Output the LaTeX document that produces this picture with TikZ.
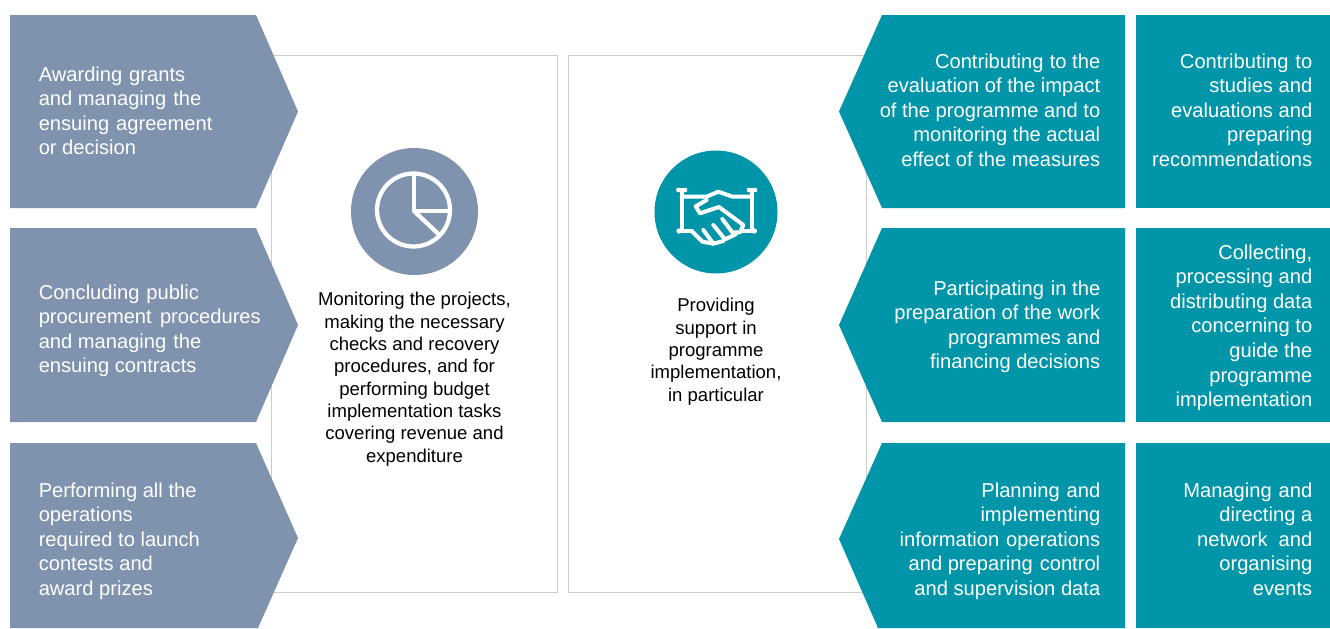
\documentclass[tikz,border=0pt]{standalone}
\usepackage{fontspec}
\setmainfont{Liberation Sans}
\definecolor{slate}{HTML}{7F92AE}
\definecolor{teal2}{HTML}{0095A8}
\definecolor{rule}{HTML}{CCCCCC}
\newcommand{\wsp}[1]{\hspace{#1pt}}
\tikzset{
  x=0.75pt,y=-0.75pt,
  panel/.style={draw=rule,line width=0.75pt,fill=white},
  slatefill/.style={fill=slate},
  tealfill/.style={fill=teal2},
  big/.style={text=white,font=\fontsize{15.1}{18.4}\selectfont,inner sep=0pt},
  bigl/.style={big,align=left,anchor=north west},
  bigr/.style={big,align=right,anchor=north east},
  small/.style={text=black,font=\fontsize{13.9}{16.75}\selectfont,inner sep=0pt,align=center,anchor=north},
  icon/.style={draw=white,line width=3.2pt,line cap=round,line join=round},
  iconh/.style={draw=white,line width=3pt,line cap=round,line join=round},
  dot/.style={fill=white}
}
\begin{document}
\begin{tikzpicture}
\useasboundingbox (0,0) rectangle (1330,628);
\fill[white] (0,0) rectangle (1330,628);
\draw[panel] (271.5,55) rectangle (557,592.5);
\draw[panel] (568.5,55) rectangle (866,592.5);
% left chevrons
\fill[slatefill] (10,15) -- (256,15) -- (298,111.5) -- (256,208) -- (10,208) -- cycle;
\fill[slatefill] (10,228) -- (256,228) -- (298,325) -- (256,422) -- (10,422) -- cycle;
\fill[slatefill] (10,443) -- (256,443) -- (298,538) -- (258,628) -- (10,628) -- cycle;
% right chevrons
\fill[tealfill] (1125,15) -- (882,15) -- (839,111.5) -- (882,208) -- (1125,208) -- cycle;
\fill[tealfill] (1125,228) -- (882,228) -- (839,325) -- (882,422) -- (1125,422) -- cycle;
\fill[tealfill] (1125,443) -- (882,443) -- (839,539) -- (878,628) -- (1125,628) -- cycle;
% right boxes
\fill[tealfill] (1136,15) rectangle (1330,208);
\fill[tealfill] (1136,228) rectangle (1330,422);
\fill[tealfill] (1136,443) rectangle (1330,628);
% left text
\node[bigl] (l1) at (38.5,66.5) {Awarding\wsp{1} grants\\and managing\wsp{1} the\\ensuing\wsp{1} agreement\\or decision};
\node[bigl] (l2) at (38.5,284.5) {Concluding\wsp{1} public\\procurement\wsp{2} procedures\\and managing\wsp{1} the\\ensuing contracts};
\node[bigl] (l3) at (38.5,482.5) {Performing all the\\operations\\required to launch\\contests and\\award prizes};
% middle right chevron text
\node[bigr] (m1) at (1100.5,53.5) {Contributing\wsp{0.5} to the\\evaluation of the impact\\of the programme and to\\monitoring the actual\\effect of the measures};
\node[bigr] (m2) at (1100.5,280.5) {Participating\wsp{1} in the\\preparation of the work\\programmes and\\financing decisions};
\node[bigr] (m3) at (1100.5,482.5) {Planning\wsp{1} and\\implementing\\information\wsp{1} operations\\and preparing\wsp{1} control\\and supervision data};
% far right text
\node[bigr] (r1) at (1312.5,53.5) {Contributing\wsp{1} to\\studies and\\evaluations and\\preparing\\recommendations};
\node[bigr] (r2) at (1312.5,244.5) {Collecting,\\processing and\\distributing data\\concerning to\\guide the\\programme\\implementation};
\node[bigr] (r3) at (1312.5,482.5) {Managing\wsp{1} and\\directing a\\network\wsp{4} and\\organising\\events};
% panel text
\node[small] (c1) at (414.5,292) {Monitoring the projects,\\making the necessary\\checks and recovery\\procedures, and for\\performing budget\\implementation tasks\\covering revenue and\\expenditure};
\node[small] (c2) at (716,298) {Providing\\support in\\programme\\implementation,\\in particular};
% pie icon
\node[circle,fill=slate,minimum size=95.25pt,inner sep=0pt] (pie) at (414.5,211.5) {};
\draw[icon] (413.5,210) circle (36.5);
\draw[icon,line cap=butt] (414,175) -- (414,211) -- (449,211);
\draw[icon,line cap=butt] (414,211) -- (439.5,235);
% handshake icon
\node[circle,fill=teal2,minimum size=92.25pt,inner sep=0pt] (shake) at (716,212) {};
\begin{scope}[shift={(645,145)},x=0.25pt,y=-0.25pt]
\draw[iconh] (100,135) -- (120,135) (110,135) -- (110,258) -- (140,258);
\draw[iconh] (312,135) -- (330,135) (320,135) -- (320,258) -- (292,258);
\draw[iconh] (110,155) -- (185,155) -- (220,140) -- (262,155) -- (320,155);
\draw[iconh] (185,165) -- (152,184) -- (165,205) -- (222,186) -- (295,240) -- (285,262) -- (262,262) -- (232,222);
\draw[iconh] (272,268) -- (240,283) -- (205,240);
\draw[iconh] (235,288) -- (205,296) -- (175,255);
\draw[iconh] (205,296) -- (172,290) -- (140,258);
\fill[dot] (100,135) circle (7) (120,135) circle (7) (312,135) circle (7) (330,135) circle (7) (102,258) circle (8) (328,258) circle (8);
\end{scope}
\end{tikzpicture}
\end{document}
